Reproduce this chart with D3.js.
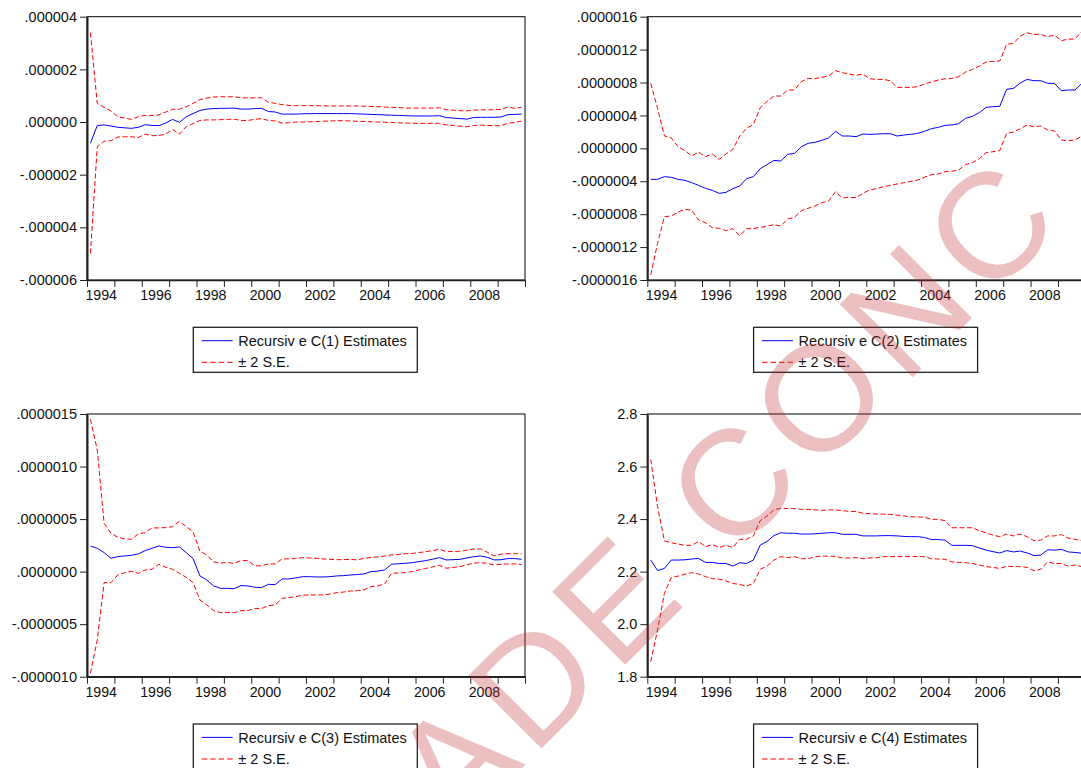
<!DOCTYPE html>
<html>
<head>
<meta charset="utf-8">
<script src="https://cdn.jsdelivr.net/npm/d3@7"></script>
<style>
  html, body { margin: 0; padding: 0; background: #fff; }
  svg { display: block; }
  text { font-family: "Liberation Sans", Arial, sans-serif; }
</style>
</head>
<body>
<svg id="chart" width="1081" height="768"></svg>
<script>
// Quarterly sample 1994Q1 - 2009Q4
const startYear = 1994;
const nQuarters = 64;
const yearTicks = [1994, 1995, 1996, 1997, 1998, 1999, 2000, 2001, 2002, 2003, 2004, 2005, 2006, 2007, 2008, 2009, 2010];

// C(1), values in millionths
const c1Est = [-0.81,-0.13,-0.11,-0.15,-0.20,-0.22,-0.24,-0.20,-0.10,-0.13,-0.14,-0.04,0.10,-0.01,0.20,0.32,
  0.44,0.49,0.51,0.52,0.52,0.53,0.49,0.49,0.51,0.52,0.40,0.38,0.30,0.30,0.30,0.31,
  0.32,0.32,0.32,0.32,0.32,0.32,0.32,0.31,0.30,0.29,0.28,0.27,0.26,0.25,0.24,0.23,
  0.23,0.23,0.23,0.24,0.17,0.15,0.13,0.11,0.17,0.18,0.18,0.18,0.19,0.28,0.29,0.30];
const c1Up = [3.39,0.71,0.56,0.42,0.20,0.15,0.10,0.20,0.25,0.25,0.27,0.38,0.48,0.49,0.58,0.71,
  0.85,0.91,0.95,0.96,0.96,0.96,0.92,0.92,0.92,0.92,0.75,0.71,0.66,0.63,0.62,0.62,
  0.62,0.62,0.62,0.61,0.61,0.61,0.61,0.61,0.60,0.59,0.58,0.57,0.56,0.55,0.53,0.53,
  0.53,0.53,0.53,0.54,0.47,0.45,0.43,0.42,0.45,0.46,0.46,0.47,0.48,0.57,0.52,0.56];
const c1Lo = [-4.99,-0.94,-0.73,-0.71,-0.57,-0.56,-0.56,-0.59,-0.46,-0.52,-0.51,-0.46,-0.28,-0.46,-0.18,-0.06,
  0.06,0.08,0.08,0.09,0.10,0.11,0.06,0.06,0.10,0.13,0.06,0.04,-0.04,-0.03,0.00,0.00,
  0.01,0.02,0.03,0.04,0.05,0.05,0.04,0.03,0.02,0.01,0.00,-0.01,-0.02,-0.03,-0.04,-0.05,
  -0.05,-0.05,-0.05,-0.05,-0.11,-0.13,-0.16,-0.18,-0.13,-0.12,-0.13,-0.14,-0.14,-0.05,-0.01,0.03];

// C(2), values in millionths
const c2Est = [-0.377,-0.377,-0.344,-0.352,-0.377,-0.389,-0.417,-0.450,-0.486,-0.510,-0.547,-0.535,-0.490,-0.458,-0.369,-0.344,
  -0.247,-0.198,-0.146,-0.154,-0.073,-0.061,0.020,0.061,0.073,0.097,0.126,0.207,0.150,0.150,0.142,0.174,
  0.170,0.174,0.178,0.178,0.150,0.162,0.170,0.182,0.207,0.239,0.255,0.279,0.284,0.300,0.365,0.389,
  0.433,0.498,0.506,0.510,0.717,0.729,0.794,0.838,0.822,0.822,0.790,0.790,0.700,0.709,0.709,0.790];
const c2Up = [0.790,0.486,0.150,0.126,0.020,-0.028,-0.093,-0.045,-0.101,-0.069,-0.134,-0.069,-0.012,0.150,0.243,0.290,
  0.494,0.571,0.636,0.636,0.709,0.709,0.810,0.850,0.846,0.863,0.879,0.944,0.919,0.903,0.887,0.903,
  0.846,0.838,0.838,0.822,0.741,0.741,0.741,0.749,0.782,0.806,0.830,0.846,0.850,0.871,0.927,0.960,
  1.000,1.049,1.057,1.061,1.264,1.276,1.365,1.405,1.385,1.385,1.357,1.377,1.308,1.328,1.328,1.422];
const c2Lo = [-1.539,-1.154,-0.830,-0.822,-0.774,-0.741,-0.753,-0.871,-0.903,-0.964,-0.972,-1.000,-0.976,-1.065,-0.976,-0.976,
  -0.960,-0.948,-0.927,-0.944,-0.859,-0.838,-0.757,-0.729,-0.701,-0.660,-0.640,-0.527,-0.603,-0.595,-0.599,-0.547,
  -0.506,-0.490,-0.466,-0.450,-0.433,-0.417,-0.401,-0.385,-0.352,-0.320,-0.312,-0.284,-0.279,-0.263,-0.198,-0.174,
  -0.126,-0.053,-0.041,-0.028,0.182,0.198,0.239,0.284,0.263,0.271,0.223,0.211,0.101,0.093,0.101,0.150];

// C(3), values in millionths
const c3Est = [0.244,0.222,0.181,0.127,0.143,0.149,0.155,0.168,0.200,0.222,0.244,0.232,0.228,0.235,0.181,0.124,
  -0.041,-0.079,-0.136,-0.159,-0.159,-0.162,-0.133,-0.136,-0.149,-0.152,-0.121,-0.124,-0.070,-0.070,-0.060,-0.048,
  -0.048,-0.051,-0.051,-0.048,-0.041,-0.038,-0.032,-0.028,-0.022,0.000,0.005,0.016,0.070,0.075,0.079,0.085,
  0.095,0.105,0.118,0.133,0.111,0.114,0.117,0.130,0.142,0.149,0.136,0.111,0.113,0.124,0.124,0.117];
const c3Up = [1.450,1.158,0.460,0.365,0.327,0.311,0.308,0.359,0.371,0.416,0.416,0.419,0.428,0.479,0.428,0.378,
  0.194,0.159,0.092,0.082,0.086,0.079,0.105,0.105,0.057,0.054,0.073,0.073,0.121,0.121,0.124,0.133,
  0.130,0.127,0.121,0.117,0.114,0.114,0.117,0.111,0.127,0.135,0.140,0.148,0.159,0.163,0.171,0.173,
  0.181,0.190,0.200,0.213,0.190,0.192,0.194,0.205,0.214,0.216,0.184,0.149,0.165,0.171,0.171,0.168];
const c3Lo = [-0.968,-0.650,-0.105,-0.105,-0.032,-0.010,0.003,-0.016,0.016,0.022,0.070,0.041,0.022,-0.016,-0.054,-0.105,
  -0.270,-0.317,-0.371,-0.390,-0.390,-0.390,-0.371,-0.371,-0.352,-0.352,-0.324,-0.317,-0.254,-0.247,-0.238,-0.225,
  -0.222,-0.222,-0.222,-0.213,-0.200,-0.194,-0.184,-0.181,-0.174,-0.143,-0.135,-0.117,-0.016,-0.013,-0.010,0.000,
  0.016,0.030,0.045,0.060,0.032,0.040,0.048,0.065,0.080,0.086,0.079,0.063,0.070,0.073,0.073,0.067];

// C(4), values in natural units
const c4Est = [2.244,2.204,2.212,2.244,2.244,2.245,2.248,2.250,2.235,2.235,2.231,2.231,2.221,2.234,2.231,2.244,
  2.301,2.315,2.337,2.348,2.346,2.346,2.343,2.343,2.344,2.346,2.348,2.348,2.342,2.342,2.342,2.336,
  2.336,2.336,2.337,2.337,2.336,2.334,2.333,2.333,2.330,2.322,2.322,2.320,2.300,2.300,2.300,2.299,
  2.290,2.282,2.276,2.271,2.280,2.275,2.278,2.271,2.261,2.263,2.283,2.282,2.285,2.275,2.273,2.270];
const c4Up = [2.627,2.447,2.317,2.310,2.305,2.300,2.300,2.315,2.295,2.303,2.292,2.300,2.292,2.323,2.323,2.336,
  2.394,2.412,2.435,2.441,2.440,2.440,2.437,2.437,2.435,2.433,2.435,2.435,2.432,2.429,2.429,2.422,
  2.421,2.419,2.419,2.418,2.415,2.412,2.409,2.408,2.407,2.399,2.399,2.394,2.367,2.367,2.367,2.367,
  2.356,2.348,2.339,2.333,2.343,2.336,2.343,2.333,2.318,2.320,2.336,2.336,2.341,2.328,2.323,2.318];
const c4Lo = [1.857,1.978,2.117,2.177,2.183,2.190,2.196,2.191,2.181,2.173,2.171,2.165,2.155,2.151,2.145,2.155,
  2.209,2.221,2.244,2.257,2.253,2.257,2.249,2.249,2.257,2.259,2.259,2.258,2.252,2.252,2.253,2.249,
  2.252,2.253,2.257,2.257,2.257,2.257,2.257,2.257,2.257,2.249,2.248,2.247,2.237,2.235,2.234,2.231,
  2.225,2.219,2.216,2.212,2.221,2.219,2.219,2.216,2.204,2.209,2.237,2.231,2.231,2.221,2.225,2.219];

// Y tick values per panel (same units as the series above)
const c1Ticks = [-6, -4, -2, 0, 2, 4];
const c2Ticks = [-1.6, -1.2, -0.8, -0.4, 0, 0.4, 0.8, 1.2, 1.6];
const c3Ticks = [-1.0, -0.5, 0, 0.5, 1.0, 1.5];
const c4Ticks = [1.8, 2.0, 2.2, 2.4, 2.6, 2.8];

const legendNames = ["Recursiv e C(1) Estimates", "Recursiv e C(2) Estimates",
                     "Recursiv e C(3) Estimates", "Recursiv e C(4) Estimates"];
const bandName = "\u00B1 2 S.E.";
const stampText = "ADE CONC";

const locale = d3.formatLocale({decimal: ".", thousands: ",", grouping: [3], currency: ["$", ""], minus: "-"});

const panels = [
  {left: 87,    top: 16.7, bottom: 280,   unit: 1e-6, ticks: c1Ticks, fmt: ".6f", est: c1Est, up: c1Up, lo: c1Lo, name: legendNames[0]},
  {left: 647.3, top: 16.7, bottom: 280,   unit: 1e-6, ticks: c2Ticks, fmt: ".7f", est: c2Est, up: c2Up, lo: c2Lo, name: legendNames[1]},
  {left: 87,    top: 414,  bottom: 676.7, unit: 1e-6, ticks: c3Ticks, fmt: ".7f", est: c3Est, up: c3Up, lo: c3Lo, name: legendNames[2]},
  {left: 647.3, top: 414,  bottom: 676.7, unit: 1,    ticks: c4Ticks, fmt: ".1f", est: c4Est, up: c4Up, lo: c4Lo, name: legendNames[3]}
];
const plotWidth = 438;

const svg = d3.select("#chart");
const quarterTime = d3.range(nQuarters).map(i => startYear + 0.125 + 0.25 * i);

panels.forEach(p => {
  const g = svg.append("g");
  const x = d3.scaleLinear().domain([startYear, 2010]).range([p.left, p.left + plotWidth]);
  const yDom = d3.extent(p.ticks).map(v => v * p.unit);
  const y = d3.scaleLinear().domain(yDom).range([p.bottom, p.top]);
  const fmt = locale.format(p.fmt);
  const label = v => fmt(v).replace(/^(-?)0\./, "$1.");

  // frame (top and right edges)
  g.append("rect")
    .attr("x", p.left).attr("y", p.top)
    .attr("width", plotWidth).attr("height", p.bottom - p.top)
    .attr("fill", "none").attr("stroke", "#000").attr("stroke-width", 1);

  // series
  const line = d3.line().x((d, i) => x(quarterTime[i])).y(d => y(d * p.unit));
  g.append("path").datum(p.up).attr("d", line)
    .attr("fill", "none").attr("stroke", "#ff0000").attr("stroke-width", 1).attr("stroke-dasharray", "5,2.5");
  g.append("path").datum(p.lo).attr("d", line)
    .attr("fill", "none").attr("stroke", "#ff0000").attr("stroke-width", 1).attr("stroke-dasharray", "5,2.5");
  g.append("path").datum(p.est).attr("d", line)
    .attr("fill", "none").attr("stroke", "#0000ff").attr("stroke-width", 1);

  // y axis
  const yAxis = d3.axisLeft(y).tickValues(p.ticks.map(v => v * p.unit))
    .tickFormat(label).tickSize(7).tickSizeOuter(0).tickPadding(3);
  const ya = g.append("g").attr("transform", `translate(${p.left},0)`).call(yAxis);
  ya.select(".domain").attr("stroke", "#222").attr("stroke-width", 2);
  ya.selectAll(".tick line").attr("stroke", "#222");
  ya.selectAll("text").style("font-size", "14.5px").style("fill", "#111");

  // x axis: tick at each year start, label centred within even years
  const halfYear = x(startYear + 0.5) - x(startYear);
  const xAxis = d3.axisBottom(x).tickValues(yearTicks)
    .tickFormat(d => (d % 2 === 0 && d < 2010) ? String(d) : "")
    .tickSize(7).tickSizeOuter(0).tickPadding(3);
  const xa = g.append("g").attr("transform", `translate(0,${p.bottom})`).call(xAxis);
  xa.select(".domain").attr("stroke", "#222").attr("stroke-width", 1.7);
  xa.selectAll(".tick line").attr("stroke", "#222");
  xa.selectAll("text").attr("dx", halfYear).style("font-size", "14.2px").style("fill", "#111");

  // legend
  const lx = p.left + 106.3, ly = p.bottom + 47.3;
  const lg = g.append("g").attr("transform", `translate(${lx},${ly})`);
  lg.append("rect").attr("width", 224).attr("height", 45)
    .attr("fill", "#fff").attr("stroke", "#222").attr("stroke-width", 1.3);
  lg.append("line").attr("x1", 8.4).attr("x2", 39.4).attr("y1", 13.4).attr("y2", 13.4)
    .attr("stroke", "#0000ff").attr("stroke-width", 1);
  lg.append("line").attr("x1", 8.4).attr("x2", 39.4).attr("y1", 35).attr("y2", 35)
    .attr("stroke", "#ff0000").attr("stroke-width", 1).attr("stroke-dasharray", "5.5,3");
  lg.append("text").attr("x", 45).attr("y", 18.6).style("font-size", "14.5px").style("fill", "#111").text(p.name);
  lg.append("text").attr("x", 45).attr("y", 40.2).style("font-size", "14.5px").style("fill", "#111").text(bandName);
});

// diagonal stamp across the page
svg.append("text")
  .attr("transform", "translate(455,835) rotate(-45)")
  .style("font-size", "150px")
  .style("letter-spacing", "10px")
  .style("fill", "#c03030")
  .style("fill-opacity", 0.3)
  .text(stampText);
</script>
</body>
</html>
